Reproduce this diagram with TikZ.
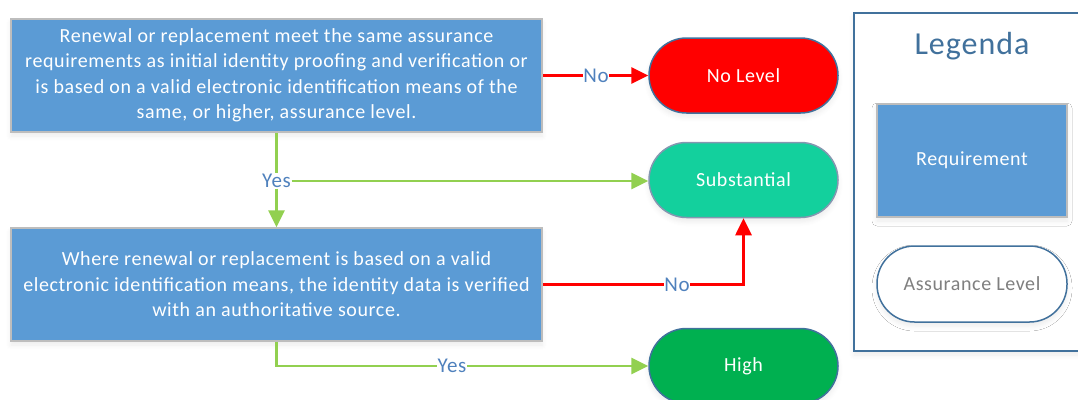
\documentclass[tikz,border=0pt]{standalone}
\usepackage{fontspec}
\setmainfont{Carlito}[LetterSpace=3]
\usetikzlibrary{arrows.meta,shadows.blur,calc}
\definecolor{reqblue}{HTML}{5B9BD5}
\definecolor{reqedge}{HTML}{BDBDBD}
\definecolor{lvledge}{HTML}{41719C}
\definecolor{nolevel}{HTML}{FF0000}
\definecolor{subst}{HTML}{13D09D}
\definecolor{substedge}{HTML}{8497B0}
\definecolor{high}{HTML}{00B050}
\definecolor{yesgreen}{HTML}{92D050}
\definecolor{labelblue}{HTML}{4F81BD}
\definecolor{textgray}{HTML}{7F7F7F}
\tikzset{
  softshadow/.style={blur shadow={shadow xshift=0pt, shadow yshift=-4pt,
      shadow opacity=8, shadow blur steps=6, shadow blur radius=5pt}},
  reqbox/.style={draw=reqedge, line width=1.5pt, fill=reqblue, text=white,
      minimum width=531pt, minimum height=113pt, align=center,
      font=\fontsize{20}{25.5}\selectfont, inner sep=0pt, softshadow},
  lvl/.style={draw=lvledge, line width=1.5pt, rounded corners=37.5pt,
      minimum width=189pt, minimum height=75pt, text=white,
      font=\fontsize{20}{24}\selectfont, inner sep=0pt, softshadow},
  yesline/.style={draw=yesgreen, line width=2.7pt,
      -{Triangle[length=17pt,width=16pt]}},
  noline/.style={draw=nolevel, line width=2.7pt,
      -{Triangle[length=17pt,width=16pt]}},
  plainyes/.style={draw=yesgreen, line width=2.7pt},
  plainno/.style={draw=nolevel, line width=2.7pt},
  edgelabel/.style={fill=white, text=labelblue, inner sep=0.5pt,
      font=\fontsize{21}{24}\selectfont},
}
\begin{document}
\begin{tikzpicture}[x=1pt,y=-1pt]
\useasboundingbox (0,0) rectangle (1078,399);
\clip (0,0) rectangle (1078,399);

% requirement boxes
\node[reqbox] (q1) at (276.5,75.5) {Renewal or replacement meet the same assurance\\
requirements as initial identity proofing and verification or\\
is based on a valid electronic identification means of the\\
same, or higher, assurance level.};
\node[reqbox] (q2) at (276.5,284.5) {Where renewal or replacement is based on a valid\\
electronic identification means, the identity data is verified\\
with an authoritative source.};

% assurance levels
\node[lvl, fill=nolevel] (nolvl) at (743.5,75.5) {No Level};
\node[lvl, fill=subst, draw=substedge] (sub) at (743.5,180) {Substantial};
\node[lvl, fill=high] (hi) at (743.5,366) {High};

% connectors
\node[edgelabel] (no1) at (596,75.5) {No};
\draw[plainno] (q1.east) -- (no1.west);
\draw[noline] (no1.east) -- (nolvl.west);

\node[edgelabel] (yes1) at (q1.south |- 0,181) {Yes};
\draw[plainyes] (q1.south) -- (yes1.north);
\draw[yesline] (yes1.south) -- (q2.north);
\draw[yesline] (yes1.east) -- (yes1.east -| sub.west);

\node[edgelabel] (no2) at (677,284.5) {No};
\draw[plainno] (q2.east) -- (no2.west);
\draw[noline] (no2.east) -- (no2.east -| sub.south) -- (sub.south);

\coordinate (turn) at (q2.south |- hi.west);
\node[edgelabel] (yes2) at (452,366) {Yes};
\draw[plainyes] (q2.south) -- (turn) -- (yes2.west);
\draw[yesline] (yes2.east) -- (hi.west);

% legend
\draw[draw=lvledge, line width=1.5pt, fill=white, softshadow]
  (854,13) rectangle (1095,351);
\node[text=lvledge, font=\fontsize{32}{36}\selectfont] (legtitle) at (972,46) {Legenda};
\node[reqbox, minimum width=190pt, minimum height=113pt] (legreq) at (972,160.5) {Requirement};
\node[lvl, fill=white, minimum width=190pt, minimum height=76pt, text=textgray] (leglvl) at (972,284) {Assurance Level};
\end{tikzpicture}
\end{document}
